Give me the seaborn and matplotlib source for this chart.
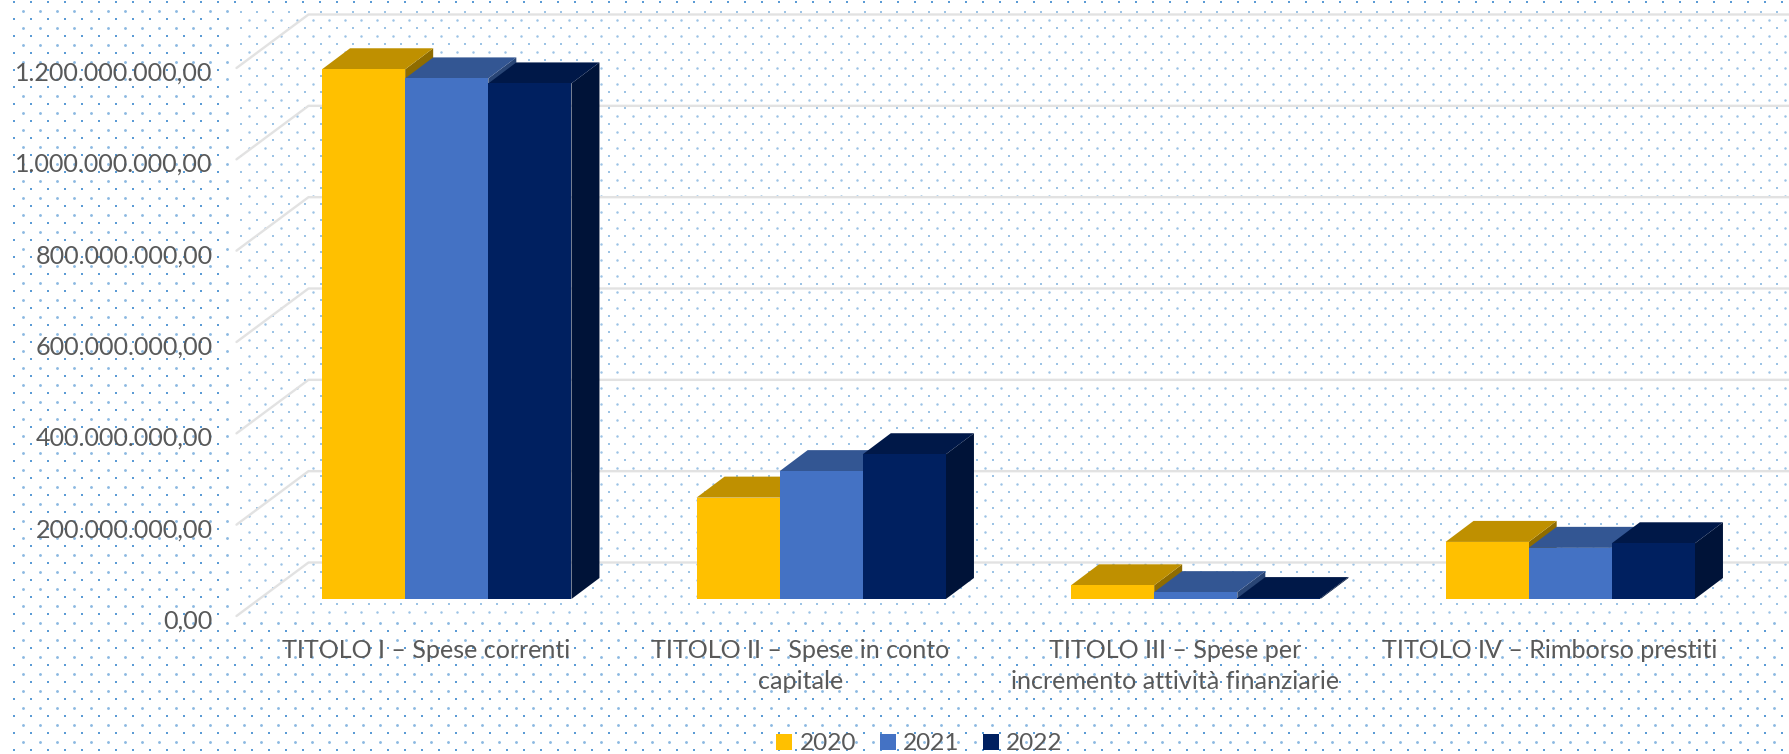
import numpy as np
import pandas as pd
import seaborn as sns
import matplotlib.pyplot as plt
from matplotlib.patches import Polygon, Rectangle
from matplotlib.lines import Line2D
from matplotlib.transforms import IdentityTransform, ScaledTranslation

categories = [
    "TITOLO I – Spese correnti",
    "TITOLO II – Spese in conto\ncapitale",
    "TITOLO III – Spese per\nincremento attività finanziarie",
    "TITOLO IV – Rimborso prestiti",
]
years = ["2020", "2021", "2022"]
values_2020 = [1160e6, 222e6, 30e6, 125e6]
values_2021 = [1140e6, 280e6, 15e6, 112e6]
values_2022 = [1129e6, 317e6, 2e6, 122e6]
y_ticks = [0, 200e6, 400e6, 600e6, 800e6, 1000e6, 1200e6]
y_tick_labels = ["0,00", "200.000.000,00", "400.000.000,00", "600.000.000,00",
                 "800.000.000,00", "1.000.000.000,00", "1.200.000.000,00"]

front_colors = ["#FFC000", "#4472C4", "#002060"]
top_colors = ["#BF9000", "#335693", "#001848"]
side_colors = ["#8F6C00", "#294575", "#001338"]
text_color = "#595959"
grid_color = "#E2E2E2"
dot_color = "#5B9BD5"

W, H = 1789, 754
DEPTH_X, DEPTH_Y = 28, 21

sns.set_theme(style="white")
plt.rcParams["font.family"] = ["Lato", "DejaVu Sans"]

fig = plt.figure(figsize=(W / 100, H / 100), dpi=100, facecolor="white")

# dotted background, outer page and the slightly finer plot panel
bg = fig.add_axes([0, 0, 1, 1], zorder=-1)
bg.set_xlim(0, W)
bg.set_ylim(H, 0)
bg.axis("off")


def dots(x0, x1, y0, y1, step_x, step_y, strong, soft, zorder):
    rows = np.arange(y0, y1, step_y)
    for i, y in enumerate(rows):
        x = np.arange(x0 + (i % 2) * step_x / 2, x1, step_x)
        size, alpha = strong if i % 2 == 0 else soft
        bg.scatter(x, np.full_like(x, y), s=size, color=dot_color, alpha=alpha,
                   linewidths=0, marker="s" if i % 2 == 0 else "o", zorder=zorder)


dots(14, W, 2, H, 17, 8.5, (3, 1), (4.2, 0.7), 1)
bg.add_patch(Rectangle((233, 7), W - 233, 609, facecolor="white", edgecolor="none", zorder=2))
dots(241, W, 11.5, 616, 16, 8, (3.2, 0.6), (3.2, 0.6), 3)

# main axes: y=0 sits on the front edge of the bars
ax = fig.add_axes([259.5 / W, (H - 599) / H, 1498 / W, 548 / H], facecolor="none")

df = pd.DataFrame({
    "categoria": categories * 3,
    "anno": np.repeat(years, len(categories)),
    "valore": values_2020 + values_2021 + values_2022,
})
sns.barplot(data=df, x="categoria", y="valore", hue="anno", hue_order=years,
            palette=front_colors, saturation=1, width=0.666, gap=0, linewidth=0, ax=ax)

ax.set_xlim(-0.5, 3.5)
ax.set_ylim(0, 1200e6)
ax.set_xlabel("")
ax.set_ylabel("")
sns.despine(ax=ax, left=True, bottom=True, top=True, right=True)
ax.grid(False)

px = IdentityTransform()

# gridlines on the back wall and their diagonals on the side wall
for v in y_ticks:
    x_left, y_v = ax.get_yaxis_transform().transform((0, v))
    front = (x_left - 23, y_v - 17)
    back = (x_left + 49, y_v + 36.5)
    ax.add_line(Line2D([front[0], back[0], W], [front[1], back[1], back[1]],
                       transform=px, color=grid_color, lw=1.7, clip_on=False, zorder=1))

# extruded tops and sides of the bars, left to right so neighbours overlap properly
for k, container in enumerate(ax.containers):
    for bar in container:
        (x0, y0), (x1, y1) = ax.transData.transform(bar.get_bbox().get_points())
        top = [(x0, y1), (x1, y1), (x1 + DEPTH_X, y1 + DEPTH_Y), (x0 + DEPTH_X, y1 + DEPTH_Y)]
        side = [(x1, y0), (x1 + DEPTH_X, y0 + DEPTH_Y), (x1 + DEPTH_X, y1 + DEPTH_Y), (x1, y1)]
        ax.add_patch(Polygon(side, transform=px, facecolor=side_colors[k], edgecolor="none",
                             clip_on=False, zorder=3 + k * 0.2))
        ax.add_patch(Polygon(top, transform=px, facecolor=top_colors[k], edgecolor="none",
                             clip_on=False, zorder=3.1 + k * 0.2))
        bar.set_zorder(5)
        bar.set_clip_on(False)

ax.set_yticks(y_ticks)
ax.set_yticklabels(y_tick_labels)
ax.tick_params(axis="y", length=0, pad=47 * 0.72, labelsize=18.1, labelcolor=text_color)
ax.tick_params(axis="x", length=0, pad=29, labelsize=18.1, labelcolor=text_color)
for lab in ax.get_yticklabels():
    lab.set_transform(lab.get_transform() + ScaledTranslation(0, -20 / 100, fig.dpi_scale_trans))
for lab in ax.get_xticklabels():
    lab.set_transform(lab.get_transform() + ScaledTranslation(-21 / 100, 0, fig.dpi_scale_trans))
    lab.set_linespacing(1.42)

handles, labels = ax.get_legend_handles_labels()
ax.legend(handles, labels, loc="center", bbox_to_anchor=(919.5 / W, 10 / H),
          bbox_transform=fig.transFigure, ncols=3, frameon=False, fontsize=17.6,
          labelcolor=text_color, handlelength=0.66, handleheight=0.66,
          handletextpad=0.3, columnspacing=0.95, borderpad=0, borderaxespad=0)

fig.savefig("out.png", dpi=100)
